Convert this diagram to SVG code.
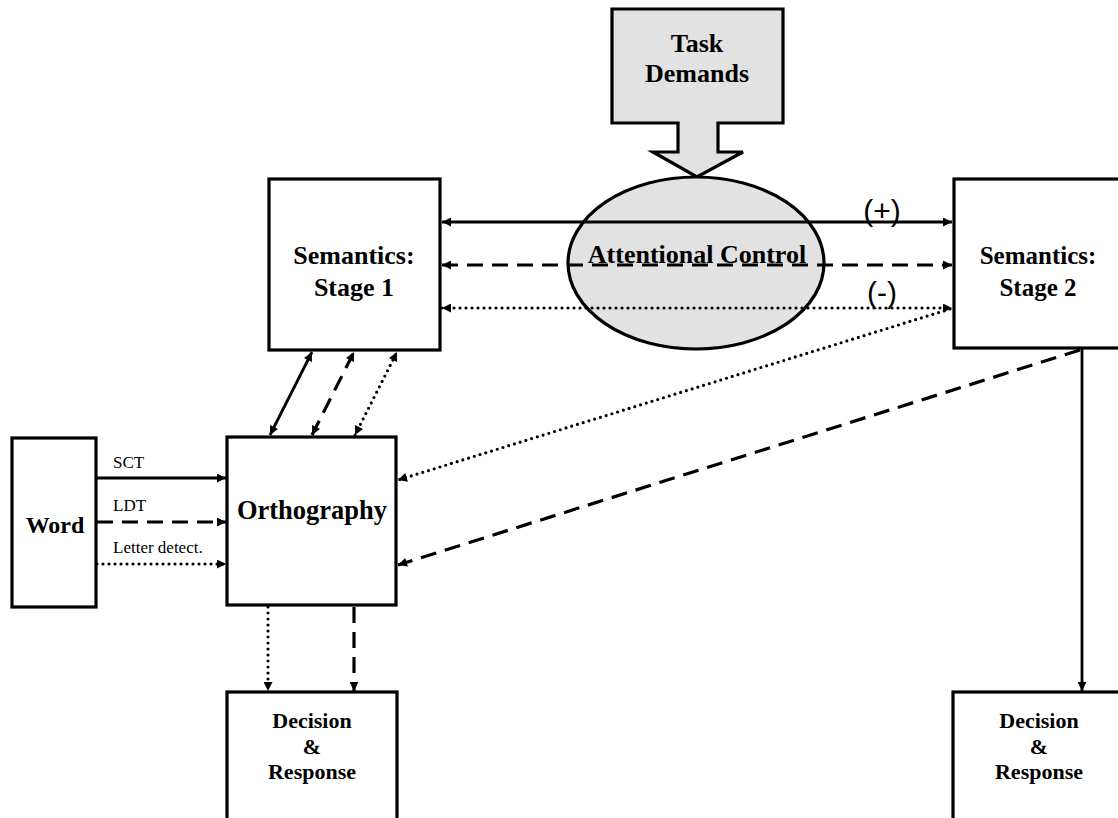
<svg xmlns="http://www.w3.org/2000/svg" width="1118" height="818" viewBox="0 0 1118 818">
  <style>
    .box { fill: #ffffff; stroke: #000000; stroke-width: 3.2; }
    .shade { fill: #e2e2e2; stroke: #000000; stroke-width: 3.2; }
    .lbl { font-family: "Liberation Serif", "Times New Roman", serif; font-weight: bold; fill: #000000; text-anchor: middle; }
    .small { font-family: "Liberation Serif", "Times New Roman", serif; font-size: 17px; fill: #000000; }
    .sign { font-family: "Liberation Sans", Arial, sans-serif; font-size: 30px; fill: #000000; text-anchor: middle; }
    .c { fill: none; stroke: #000000; stroke-width: 2.8; }
    .dash { stroke-dasharray: 16 9; stroke-width: 3.2; }
    .dot { stroke-dasharray: 0 6; stroke-linecap: round; stroke-width: 3.2; }
  </style>
  <defs>
    <marker id="ah" viewBox="0 0 10 10" refX="10" refY="5" markerWidth="10" markerHeight="9" markerUnits="userSpaceOnUse" orient="auto-start-reverse">
      <path d="M0,0 L10,5 L0,10 Z" fill="#000000"/>
    </marker>
  </defs>

  <rect width="1118" height="818" fill="#ffffff"/>

  <!-- task demands: box with a downward block arrow -->
  <g id="task-demands">
    <path class="shade" d="M612,9 H783 V123 H718 V152 H743 L697,177 L653,152 H678 V123 H612 Z"/>
    <text class="lbl" x="697" y="52" font-size="26">Task</text>
    <text class="lbl" x="697" y="82" font-size="26">Demands</text>
  </g>

  <!-- attentional control -->
  <g id="attentional-control">
    <ellipse class="shade" cx="696" cy="263" rx="128" ry="86" fill="#e6e6e6"/>
  </g>

  <g id="semantics-1">
    <rect class="box" x="269" y="179" width="171" height="171"/>
    <text class="lbl" x="354" y="264" font-size="26">Semantics:</text>
    <text class="lbl" x="354" y="296" font-size="26">Stage 1</text>
  </g>

  <g id="semantics-2">
    <rect class="box" x="954" y="179" width="180" height="169"/>
    <text class="lbl" x="1038" y="264" font-size="25">Semantics:</text>
    <text class="lbl" x="1038" y="296" font-size="25">Stage 2</text>
  </g>

  <g id="word">
    <rect class="box" x="12" y="438" width="84" height="169"/>
    <text class="lbl" x="55" y="533" font-size="24">Word</text>
  </g>

  <g id="orthography">
    <rect class="box" x="227" y="437" width="169" height="168"/>
    <text class="lbl" x="312" y="519" font-size="26.5">Orthography</text>
  </g>

  <g id="decision-1">
    <rect class="box" x="227" y="692" width="170" height="140"/>
    <text class="lbl" x="312" y="728" font-size="22">Decision</text>
    <text class="lbl" x="312" y="754" font-size="22">&amp;</text>
    <text class="lbl" x="312" y="779" font-size="22">Response</text>
  </g>

  <g id="decision-2">
    <rect class="box" x="953" y="692" width="180" height="140"/>
    <text class="lbl" x="1039" y="728" font-size="22">Decision</text>
    <text class="lbl" x="1039" y="754" font-size="22">&amp;</text>
    <text class="lbl" x="1039" y="779" font-size="22">Response</text>
  </g>

  <g id="connectors">
    <!-- stage 1 <-> stage 2 -->
    <line class="c" x1="442" y1="222" x2="952" y2="222" marker-start="url(#ah)" marker-end="url(#ah)"/>
    <line class="c dash" x1="442" y1="265" x2="952" y2="265" marker-start="url(#ah)" marker-end="url(#ah)"/>
    <line class="c dot" x1="442" y1="308" x2="952" y2="308" marker-start="url(#ah)" marker-end="url(#ah)"/>
    <!-- orthography <-> stage 1 -->
    <line class="c" x1="270" y1="435" x2="312" y2="352" marker-start="url(#ah)" marker-end="url(#ah)"/>
    <line class="c dash" x1="312" y1="435" x2="354" y2="352" marker-start="url(#ah)" marker-end="url(#ah)"/>
    <line class="c dot" x1="355" y1="435" x2="397" y2="352" marker-start="url(#ah)" marker-end="url(#ah)"/>
    <!-- word -> orthography -->
    <line class="c" x1="97" y1="478" x2="226" y2="478" marker-end="url(#ah)"/>
    <line class="c dash" x1="97" y1="522" x2="226" y2="522" marker-end="url(#ah)"/>
    <line class="c dot" x1="97" y1="564" x2="226" y2="564" marker-end="url(#ah)"/>
    <!-- stage 2 -> orthography -->
    <line class="c dot" x1="950" y1="309" x2="398" y2="480" marker-end="url(#ah)"/>
    <line class="c dash" x1="1080" y1="350" x2="398" y2="565" marker-end="url(#ah)"/>
    <!-- to decision -->
    <line class="c dot" x1="268" y1="607" x2="268" y2="691" marker-end="url(#ah)"/>
    <line class="c dash" x1="354" y1="607" x2="354" y2="691" marker-end="url(#ah)"/>
    <line class="c" x1="1082" y1="349" x2="1082" y2="691" marker-end="url(#ah)"/>
    <!-- labels -->
    <text class="small" x="113" y="468">SCT</text>
    <text class="small" x="113" y="511">LDT</text>
    <text class="small" x="113" y="553">Letter detect.</text>
    <text class="sign" x="882" y="221">(+)</text>
    <text class="sign" x="882" y="303">(-)</text>
  </g>

  <text class="lbl" x="697" y="263" font-size="26">Attentional Control</text>
</svg>
